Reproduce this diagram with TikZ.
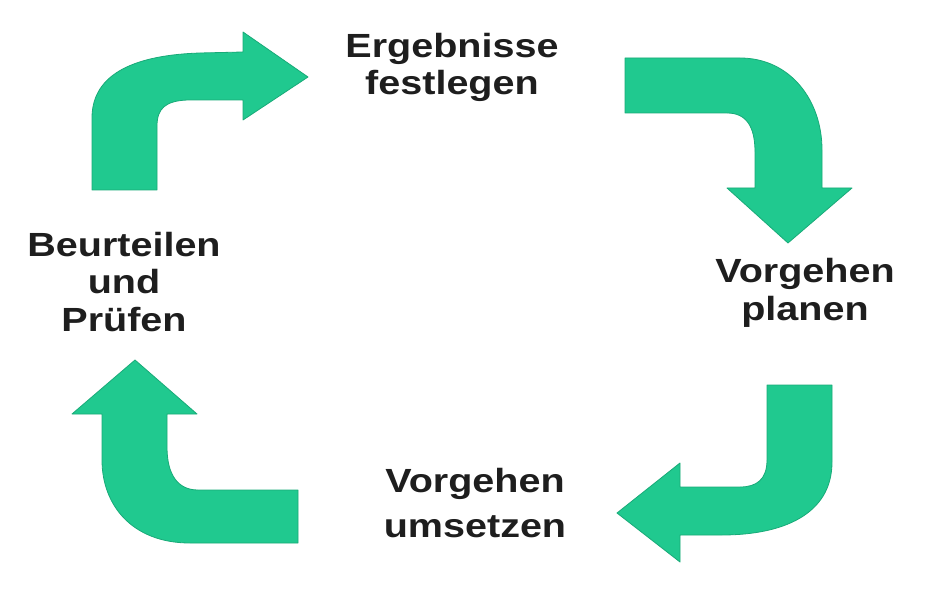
\documentclass[tikz,border=0pt]{standalone}
\usepackage{fontspec}
\setmainfont{Liberation Sans}[FakeStretch=1.18]
\begin{document}
\begin{tikzpicture}[x=1pt,y=-1pt,
  arr/.style={fill=arrowgreen, draw=arrowedge, line width=0.8pt, line join=round},
  lbl/.style={anchor=base, align=center, inner sep=0pt, text=labeltext,
    font=\fontsize{33.5}{37.5}\selectfont\bfseries}]
\definecolor{arrowgreen}{RGB}{32,201,143}
\definecolor{arrowedge}{RGB}{24,170,120}
\definecolor{labeltext}{RGB}{30,30,30}
\fill[white] (0,0) rectangle (940,596);
\useasboundingbox (0,0) rectangle (940,596);

% arrow 1 (top-left, up then right)
\draw[arr] (92,190) -- (92,118) .. controls (92,72) and (138,55) .. (200,53)
  -- (243,52) -- (243,32) -- (308,77) -- (243,120) -- (243,100) -- (187,100)
  .. controls (166,101) and (157,108) .. (157,126) -- (157,190) -- cycle;

% arrow 2 (top-right, right then down)
\draw[arr] (625,58) -- (740,58) .. controls (790,58) and (822,100) .. (822,150)
  -- (822,188) -- (852,188) -- (788,243) -- (727,188) -- (755,188) -- (755,152)
  .. controls (755,126) and (746,113) .. (727,113) -- (625,113) -- cycle;

% arrow 3 (bottom-right, down then left)
\draw[arr] (767,385) -- (832,385) -- (832,462) .. controls (832,515) and (782,535) .. (722,535)
  -- (680,535) -- (680,562) -- (617,513) -- (680,463) -- (680,487) -- (740,487)
  .. controls (756,487) and (767,480) .. (767,460) -- cycle;

% arrow 4 (bottom-left, left then up)
\draw[arr] (298,490) -- (298,543) -- (190,543) .. controls (132,543) and (102,505) .. (102,460)
  -- (102,414) -- (72,414) -- (135,360) -- (197,414) -- (167,414) -- (167,447)
  .. controls (167,475) and (178,490) .. (198,490) -- cycle;

\node[lbl] (ergebnisse) at (452,95) {Ergebnisse\\festlegen};
\node[lbl] (planen) at (805,320) {Vorgehen\\planen};
\node[lbl, font=\fontsize{33.5}{45}\selectfont\bfseries] (umsetzen) at (475,537) {Vorgehen\\umsetzen};
\node[lbl] (beurteilen) at (124,331) {Beurteilen\\und\\Prüfen};
\end{tikzpicture}
\end{document}
